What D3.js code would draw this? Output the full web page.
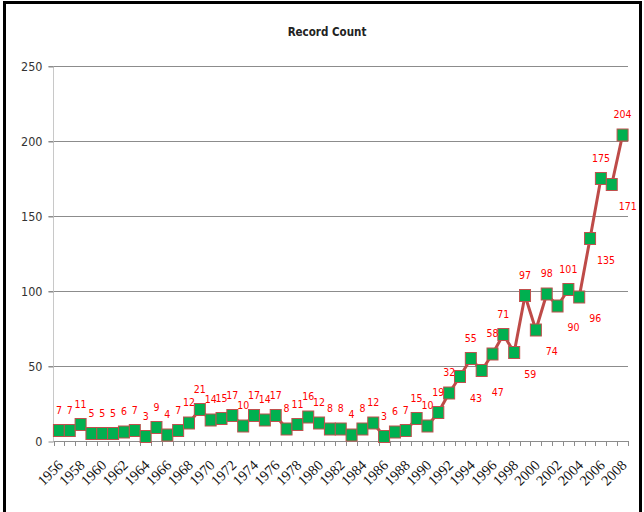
<!DOCTYPE html>
<html><head><meta charset="utf-8">
<script src="https://cdn.jsdelivr.net/npm/d3@7"></script>
<style>body{margin:0;background:#fff}</style>
</head><body>
<svg id="c" width="644" height="512"></svg>
<script>
const years = d3.range(1956, 2009);
const counts = [7,7,11,5,5,5,6,7,3,9,4,7,12,21,14,15,17,10,17,14,17,8,11,16,12,8,8,4,8,12,3,6,7,15,10,19,32,43,55,47,58,71,59,97,74,98,90,101,96,135,175,171,204];
const labelBelowYears = [1993,1995,1998,2000,2002,2004,2005,2007];
const yTicks = [0,50,100,150,200,250];
const title = "Record Count";

const svg = d3.select("#c");
const sansN = "'DejaVu Sans Condensed','DejaVu Sans',sans-serif";
svg.append("rect").attr("x",0).attr("y",0).attr("width",644).attr("height",512).attr("fill","#fff");
svg.append("rect").attr("x",4.5).attr("y",2.5).attr("width",636).attr("height",520)
  .attr("fill","none").attr("stroke","#000").attr("stroke-width",3);

const L=53.5, R=628, T=66, B=441;
const x = d3.scaleBand().domain(years).range([L,R]);
const y = d3.scaleLinear().domain([0,250]).range([B,T]);

svg.append("text").attr("x",327).attr("y",36).attr("text-anchor","middle")
  .attr("font-family",sansN).attr("font-stretch","condensed").attr("font-size",11.5).attr("font-weight","bold").attr("fill","#222").text(title);

// gridlines
svg.append("g").selectAll("line").data(yTicks.filter(d=>d>0)).join("line")
  .attr("x1",L-5).attr("x2",R).attr("y1",d=>y(d)+0.5).attr("y2",d=>y(d)+0.5)
  .attr("stroke","#8c8c8c").attr("stroke-width",1);

const ya = d3.axisLeft(y).tickValues(yTicks).tickSize(5).tickPadding(6);
const gy = svg.append("g").attr("transform",`translate(${L},0.5)`).call(ya);
gy.select(".domain").attr("stroke","#c8c8c8").attr("d",`M0,${T}V${B}`);
gy.selectAll(".tick line").attr("stroke","#8c8c8c");
gy.selectAll("text").attr("font-family",sansN).attr("font-stretch","condensed").attr("font-size",12.5).attr("fill","#333");

// x axis ticks at boundaries
const gx = svg.append("g");
gx.append("line").attr("x1",L).attr("x2",R).attr("y1",B+0.5).attr("y2",B+0.5).attr("stroke","#8c8c8c");
gx.selectAll("line.t").data(years.concat([null])).join("line").attr("class","t")
  .attr("x1",(d,i)=>Math.round(L+i*x.step())+0.5).attr("x2",(d,i)=>Math.round(L+i*x.step())+0.5)
  .attr("y1",B).attr("y2",B+5).attr("stroke","#8c8c8c");
gx.selectAll("text").data(years.filter((d,i)=>i%2===0)).join("text")
  .attr("transform",d=>`translate(${x(d)+x.bandwidth()/2+5},${B+25}) rotate(-45)`)
  .attr("text-anchor","end").attr("font-family","'Liberation Serif','Times New Roman',serif")
  .attr("font-size",14.5).attr("fill","#111").text(d=>d);

const data = years.map((yr,i)=>({yr,v:counts[i]}));
const cx = d=>x(d.yr)+x.bandwidth()/2;
svg.append("path").datum(data).attr("fill","none").attr("stroke","#be4b48").attr("stroke-width",3)
  .attr("stroke-linejoin","round")
  .attr("d",d3.line().x(cx).y(d=>y(d.v)));
svg.append("g").selectAll("rect").data(data).join("rect")
  .attr("x",d=>cx(d)-5.5).attr("y",d=>y(d.v)-6).attr("width",11).attr("height",12)
  .attr("fill","#00b050").attr("stroke","#c0504d").attr("stroke-width",1);

svg.append("g").selectAll("text").data(data).join("text")
  .attr("x",d=>labelBelowYears.includes(d.yr)? cx(d)+16 : cx(d))
  .attr("y",d=>labelBelowYears.includes(d.yr)? y(d.v)+25 : y(d.v)-17)
  .attr("text-anchor","middle").attr("font-family",sansN).attr("font-stretch","condensed").attr("font-size",10.5)
  .attr("fill","#ff0000").text(d=>d.v);
</script>
</body></html>
